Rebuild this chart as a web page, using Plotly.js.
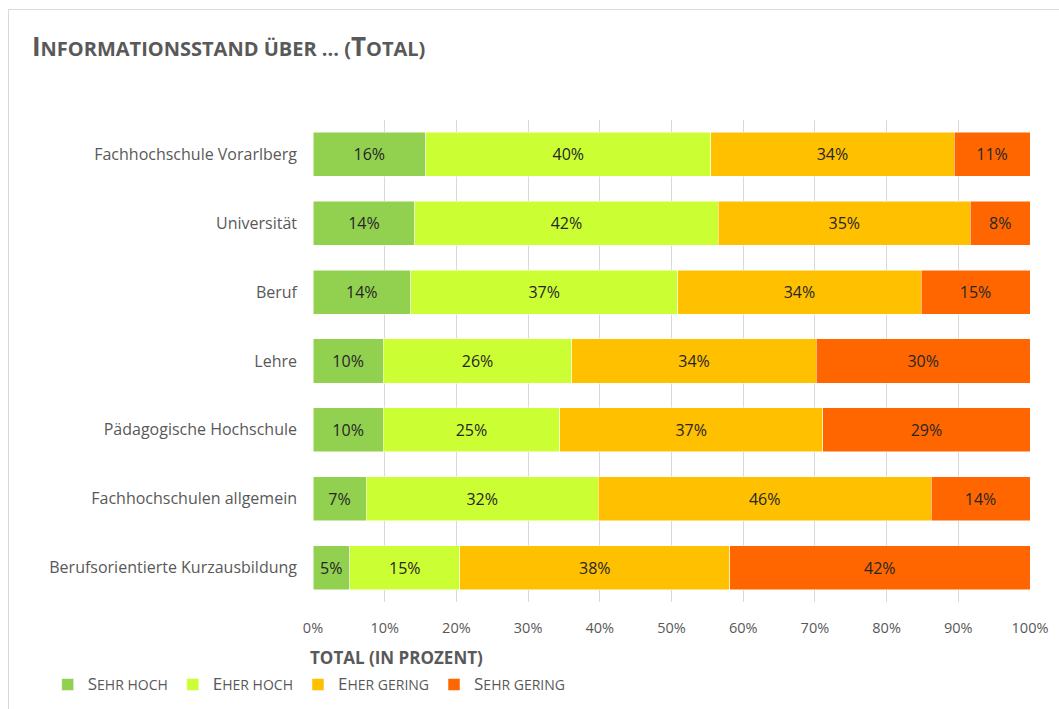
<!DOCTYPE html>
<html>
<head>
<meta charset="utf-8">
<script src="https://cdn.plot.ly/plotly-3.0.1.min.js"></script>
<style>
  html, body { margin: 0; padding: 0; background: #fff; }
  #wrap { position: relative; width: 1059px; height: 709px; }
  #frame { position: absolute; left: 8px; top: 9px; right: 0; bottom: 0; border-left: 1px solid #d9d9d9; border-top: 1px solid #d9d9d9; pointer-events: none; }
  #chart { width: 1059px; height: 709px; }
</style>
</head>
<body>
<div id="wrap">
<div id="chart"></div>
<div id="frame"></div>
</div>
<script>
// Categories (top to bottom)
const categories = [
  "Fachhochschule Vorarlberg",
  "Universität",
  "Beruf",
  "Lehre",
  "Pädagogische Hochschule",
  "Fachhochschulen allgemein",
  "Berufsorientierte Kurzausbildung"
];
// Series values in percent
const sehrHoch   = [15.7, 14.2, 13.6,  9.8,  9.8,  7.4,  5.1];
const eherHoch   = [39.8, 42.3, 37.3, 26.3, 24.6, 32.4, 15.4];
const eherGering = [33.9, 35.2, 33.9, 34.1, 36.7, 46.4, 37.6];
const sehrGering = [10.6,  8.3, 15.2, 29.8, 28.9, 13.8, 41.9];

const seriesNames = [
  '<span style="font-size:17px">S</span>EHR HOCH',
  '<span style="font-size:17px">E</span>HER HOCH',
  '<span style="font-size:17px">E</span>HER GERING',
  '<span style="font-size:17px">S</span>EHR GERING'
];
const seriesColors = ["#92D050", "#CCFF33", "#FFC000", "#FF6600"];
const seriesValues = [sehrHoch, eherHoch, eherGering, sehrGering];

const FONT = "'Open Sans', sans-serif";

const traces = seriesValues.map((vals, i) => ({
  type: "bar",
  orientation: "h",
  name: seriesNames[i],
  y: categories,
  x: vals,
  marker: { color: seriesColors[i], line: { color: "#ffffff", width: 0.5 } },
  text: vals.map(v => Math.round(v) + "%"),
  textposition: "inside",
  insidetextanchor: "middle",
  textangle: 0,
  constraintext: "none",
  textfont: { family: FONT, size: 16, color: "#262626" },
  hoverinfo: "skip"
}));

const layout = {
  width: 1059,
  height: 709,
  paper_bgcolor: "#ffffff",
  plot_bgcolor: "#ffffff",
  barmode: "stack",
  bargap: 0.36,
  margin: { l: 313, r: 29, t: 120, b: 107, autoexpand: false },
  font: { family: FONT, color: "#595959" },
  title: {
    text: '<b><span style="font-size:26px">I</span>NFORMATIONSSTAND ÜBER ... (<span style="font-size:26px">T</span>OTAL)</b>',
    font: { family: FONT, size: 20, color: "#595959" },
    x: 32 / 1059,
    xanchor: "left",
    xref: "container",
    y: 1 - 49 / 709,
    yanchor: "middle",
    yref: "container"
  },
  xaxis: {
    range: [0, 100],
    dtick: 10,
    tick0: 0,
    ticksuffix: "%",
    showgrid: true,
    gridcolor: "#d9d9d9",
    gridwidth: 1,
    zeroline: false,
    showline: false,
    ticks: "",
    ticklabelstandoff: 15,
    tickfont: { family: FONT, size: 14.5, color: "#595959" },
    fixedrange: true
  },
  yaxis: {
    autorange: "reversed",
    showgrid: false,
    zeroline: false,
    showline: false,
    ticks: "",
    ticklabelstandoff: 15,
    tickfont: { family: FONT, size: 16, color: "#595959" },
    fixedrange: true
  },
  legend: {
    orientation: "h",
    x: -0.37,
    xanchor: "left",
    y: -0.172,
    yanchor: "middle",
    font: { family: FONT, size: 14, color: "#595959" },
    traceorder: "normal",
    itemclick: false,
    itemdoubleclick: false
  },
  annotations: [{
    text: "<b>TOTAL (IN PROZENT)</b>",
    xref: "paper",
    yref: "paper",
    x: -0.007,
    xanchor: "left",
    y: -(657 - 602) / 482,
    yanchor: "middle",
    showarrow: false,
    font: { family: FONT, size: 17, color: "#595959" }
  }],
  showlegend: true
};

Plotly.newPlot("chart", traces, layout, { displayModeBar: false, staticPlot: true });
</script>
</body>
</html>
